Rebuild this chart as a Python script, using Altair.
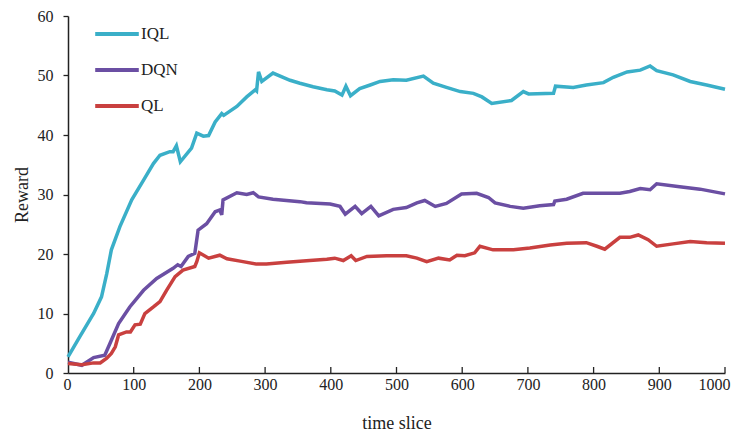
import altair as alt
import pandas as pd

series_names = ["IQL", "DQN", "QL"]
series_colors = ["#3aafc8", "#6b4fa3", "#c9403f"]

iql_x = [0, 18, 39, 51, 59, 66, 79, 97, 115, 130, 140, 155, 160, 165, 171, 188, 196, 206, 214, 224, 234, 237, 257, 272, 285, 287, 290, 295, 312, 338, 353, 373, 394, 406, 417, 423, 430, 444, 460, 475, 495, 515, 541, 556, 576, 597, 617, 630, 645, 675, 693, 701, 739, 742, 769, 789, 815, 830, 851, 871, 886, 896, 921, 947, 972, 1000]
iql_y = [2.7, 6.1, 10.0, 12.8, 16.7, 20.7, 24.6, 29.1, 32.4, 35.2, 36.6, 37.2, 37.2, 38.2, 35.5, 37.8, 40.3, 39.8, 39.9, 42.2, 43.6, 43.3, 44.8, 46.4, 47.6, 47.4, 50.6, 49.0, 50.4, 49.2, 48.7, 48.1, 47.6, 47.4, 46.7, 48.2, 46.6, 47.8, 48.4, 49.0, 49.3, 49.2, 49.9, 48.7, 48.0, 47.3, 47.0, 46.4, 45.3, 45.8, 47.3, 46.9, 47.0, 48.2, 48.0, 48.4, 48.8, 49.7, 50.6, 50.9, 51.6, 50.8, 50.1, 49.0, 48.4, 47.7]

dqn_x = [0, 21, 39, 56, 64, 77, 94, 115, 135, 160, 167, 172, 183, 193, 198, 211, 224, 231, 234, 236, 257, 272, 282, 290, 312, 353, 363, 399, 414, 422, 437, 447, 461, 473, 495, 515, 531, 543, 559, 576, 599, 622, 640, 650, 673, 693, 718, 739, 741, 759, 784, 810, 840, 855, 871, 886, 896, 931, 962, 1000]
dqn_y = [1.8, 1.3, 2.6, 3.0, 5.0, 8.3, 11.1, 13.9, 15.9, 17.6, 18.2, 17.9, 19.6, 20.1, 24.0, 25.1, 27.1, 27.4, 26.6, 29.1, 30.3, 30.0, 30.3, 29.6, 29.2, 28.8, 28.6, 28.4, 28.0, 26.7, 28.0, 26.8, 28.0, 26.4, 27.5, 27.8, 28.6, 29.0, 28.0, 28.5, 30.1, 30.2, 29.5, 28.6, 28.0, 27.7, 28.1, 28.3, 28.9, 29.2, 30.2, 30.2, 30.2, 30.5, 31.0, 30.8, 31.8, 31.3, 30.9, 30.1]

ql_x = [0, 21, 39, 49, 59, 66, 72, 77, 89, 95, 102, 110, 117, 130, 140, 150, 163, 175, 193, 196, 200, 214, 231, 242, 262, 287, 302, 333, 368, 394, 406, 419, 431, 438, 455, 485, 515, 531, 546, 564, 581, 592, 604, 619, 627, 647, 678, 703, 734, 759, 789, 805, 817, 840, 855, 868, 883, 896, 921, 947, 972, 1000]
ql_y = [1.6, 1.4, 1.7, 1.7, 2.5, 3.3, 4.4, 6.4, 6.9, 6.9, 8.1, 8.2, 10.0, 11.1, 12.0, 13.9, 16.2, 17.3, 17.9, 18.7, 20.2, 19.3, 19.8, 19.2, 18.8, 18.3, 18.3, 18.6, 18.9, 19.1, 19.3, 18.9, 19.7, 18.9, 19.6, 19.7, 19.7, 19.3, 18.7, 19.3, 19.0, 19.8, 19.7, 20.2, 21.3, 20.7, 20.7, 21.0, 21.5, 21.8, 21.9, 21.3, 20.8, 22.8, 22.8, 23.2, 22.4, 21.3, 21.7, 22.1, 21.9, 21.8]

x_ticks = [100, 200, 300, 400, 500, 600, 700, 800, 900, 1000]

rows = []
for name, xs, ys in [("IQL", iql_x, iql_y), ("DQN", dqn_x, dqn_y), ("QL", ql_x, ql_y)]:
    for i, (a, b) in enumerate(zip(xs, ys)):
        rows.append({"series": name, "t": a, "reward": b, "order": i})
df = pd.DataFrame(rows)

W, H = 657, 357
FONT = "Liberation Serif"

x_scale = alt.Scale(domain=[0, 1000], nice=False)
y_scale = alt.Scale(domain=[0, 60], nice=False)

lines = alt.Chart(df).mark_line(strokeWidth=3.5).encode(
    x=alt.X("t:Q", scale=x_scale,
            axis=alt.Axis(title="time slice", values=[0] + x_ticks, ticks=False, format="d",
                          labelFlush=True, labelFlushOffset=5,
                          labelPadding=3, titlePadding=22)),
    y=alt.Y("reward:Q", scale=y_scale,
            axis=alt.Axis(title="Reward", values=[0, 10, 20, 30, 40, 50, 60],
                          tickSize=5, labelPadding=10, titlePadding=6)),
    color=alt.Color("series:N",
                    scale=alt.Scale(domain=series_names, range=series_colors),
                    legend=alt.Legend(title=None, orient="none", legendX=25, legendY=-6,
                                      symbolType="stroke", symbolStrokeWidth=4,
                                      symbolSize=1900, labelFontSize=17, labelFont=FONT,
                                      labelOffset=0, rowPadding=4, labelColor="#222")),
    order="order:Q",
    detail="series:N",
)

tick_df = pd.DataFrame({"t": x_ticks})
ticks = alt.Chart(tick_df).mark_rule(color="#222", strokeWidth=1.3).encode(
    x=alt.X("t:Q", scale=x_scale),
    y=alt.value(H),
    y2=alt.value(H - 6),
)

chart = alt.layer(lines, ticks).properties(
    width=W, height=H,
    autosize=alt.AutoSizeParams(type="none"),
    padding={"left": 60, "top": 8, "right": 9, "bottom": 61},
).configure_view(stroke=None).configure_axis(
    grid=False, domainColor="#222", domainWidth=1.5, tickColor="#222", tickWidth=1.3,
    labelFont=FONT, labelFontSize=16, labelColor="#222",
    titleFont=FONT, titleFontSize=18, titleFontWeight="normal", titleColor="#222",
)

chart.save("out.html", embed_options={"renderer": "svg", "actions": False})
